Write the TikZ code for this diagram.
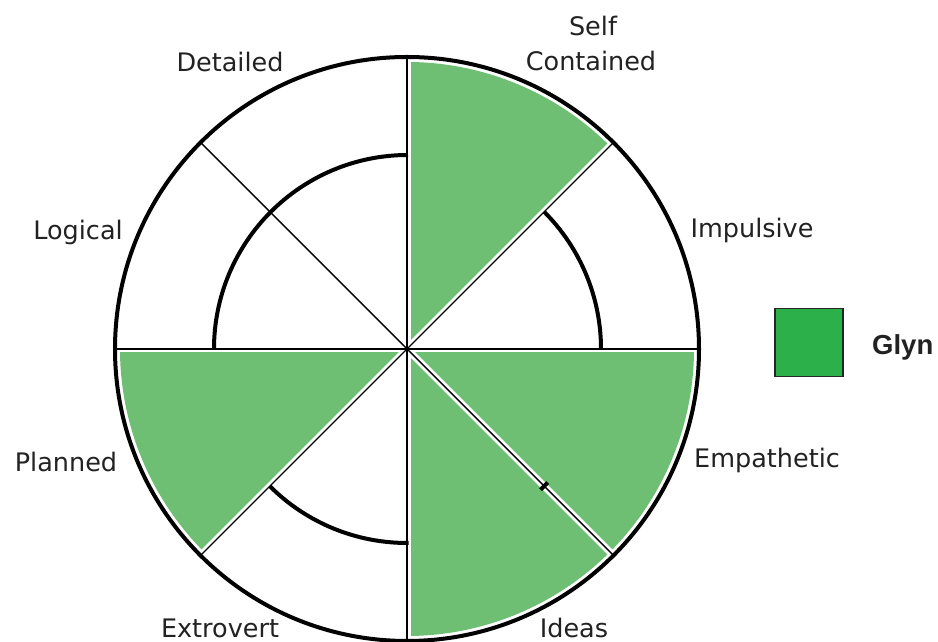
\documentclass[tikz,border=0pt]{standalone}
\usepackage{fontspec}
\usetikzlibrary{calc}
\setmainfont{DejaVu Sans}
\newfontfamily\legendfont{Liberation Sans}
\definecolor{wedgegreen}{RGB}{110,191,115}
\definecolor{legendgreen}{RGB}{43,176,74}
\definecolor{labelgray}{RGB}{34,34,34}
\begin{document}
\begin{tikzpicture}[x=1pt,y=1pt,
  wedge/.style={fill=wedgegreen},
  spoke/.style={draw=black,line width=1.4pt},
  spokegap/.style={draw=white,line width=7pt},
  rim/.style={draw=black,line width=4pt},
  innerarc/.style={draw=black,line width=4pt},
  lbl/.style={font=\fontsize{25.5}{30}\selectfont,text=labelgray,anchor=base,inner sep=0pt}]
\useasboundingbox (0,0) rectangle (938,642);
\fill[white] (0,0) rectangle (938,642);
\coordinate (c) at (407,293);
% green wedges
\fill[wedge] (c) -- ++(45:287) arc[start angle=45,end angle=90,radius=287] -- cycle;
\fill[wedge] (c) -- ++(-45:287) arc[start angle=-45,end angle=0,radius=287] -- cycle;
\fill[wedge] (c) -- ++(270:287) arc[start angle=270,end angle=315,radius=287] -- cycle;
\fill[wedge] (c) -- ++(180:287) arc[start angle=180,end angle=225,radius=287] -- cycle;
% spokes with white gaps
\foreach \a in {0,45,90,135}{
  \draw[spokegap] ($(c)+(\a:290)$) -- ($(c)+(\a+180:290)$);
}
\foreach \a in {0,45,90,135}{
  \draw[spoke] ($(c)+(\a:291)$) -- ($(c)+(\a+180:291)$);
}
% outer rim
\draw[rim] (c) circle[radius=292];
% inner arcs
\draw[innerarc] ($(c)+(90:194)$) ++(1,0) arc[start angle=90,end angle=180,radius=194];
\draw[innerarc] ($(c)+(0:194)$) arc[start angle=0,end angle=45,radius=194];
\draw[innerarc] ($(c)+(225:194)$) arc[start angle=225,end angle=270.5,radius=194];
\draw[innerarc] ($(c)+(313.5:194)$) arc[start angle=313.5,end angle=316.5,radius=194];
% labels
\node[lbl] (self) at (593,606) {Self};
\node[lbl] (contained) at (591,571) {Contained};
\node[lbl] (detailed) at (230,570) {Detailed};
\node[lbl] (logical) at (78,402) {Logical};
\node[lbl] (impulsive) at (752,404) {Impulsive};
\node[lbl] (planned) at (66,170) {Planned};
\node[lbl] (empathetic) at (767,174) {Empathetic};
\node[lbl] (extrovert) at (220,4) {Extrovert};
\node[lbl] (ideas) at (574,4) {Ideas};
% legend
\node[draw=black!85,line width=1.5pt,fill=legendgreen,minimum size=68pt,inner sep=0pt,anchor=north west] (legbox) at (774,334) {};
\node[font=\legendfont\bfseries\fontsize{27.5}{32}\selectfont,text=labelgray,anchor=base west,inner sep=0pt] (glyn) at (872,287) {Glyn};
\end{tikzpicture}
\end{document}
